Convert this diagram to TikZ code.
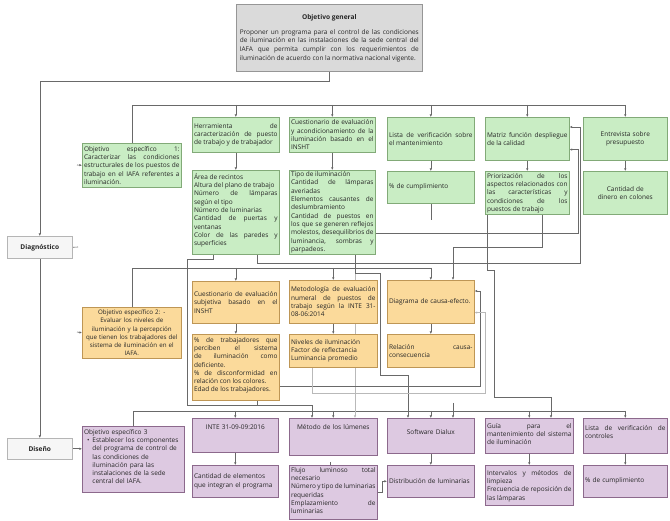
\documentclass[tikz,border=0pt]{standalone}
\usepackage{fontspec}
\setmainfont{Open Sans}
\usetikzlibrary{arrows.meta}
\definecolor{grnF}{RGB}{201,237,196}
\definecolor{grnD}{RGB}{130,170,120}
\definecolor{orgF}{RGB}{251,218,155}
\definecolor{orgD}{RGB}{190,150,85}
\definecolor{purF}{RGB}{221,201,225}
\definecolor{purD}{RGB}{140,105,140}
\definecolor{genF}{RGB}{218,218,218}
\definecolor{genD}{RGB}{150,150,150}
\definecolor{whF}{RGB}{246,246,246}
\definecolor{lnC}{RGB}{105,105,105}
\definecolor{lnL}{RGB}{185,185,185}
\pgfdeclarelayer{bg}
\pgfsetlayers{bg,main}
\newcommand\nohy{\hyphenpenalty=10000\relax\exhyphenpenalty=10000\relax\tolerance=9999\relax\emergencystretch=6pt\relax\hbadness=10000\relax\hfuzz=4pt\relax}
\newcommand\txtfont{\fontsize{6.5}{8.3}\selectfont\nohy}
\newcommand\smfont{\fontsize{6.2}{8.1}\selectfont\nohy}
\newcommand\genfont{\fontsize{6.5}{8.7}\selectfont\nohy}
\newcommand\ttlfont{\bfseries\fontsize{6.6}{8}\selectfont}
\tikzset{
  bxg/.style={draw=grnD, fill=grnF, line width=0.6pt},
  bxo/.style={draw=orgD, fill=orgF, line width=0.6pt},
  bxp/.style={draw=purD, fill=purF, line width=0.6pt},
  bxgen/.style={draw=genD, fill=genF, line width=0.6pt},
  bxw/.style={draw=genD!70, fill=whF, line width=0.6pt},
  txt/.style={inner sep=0pt, font=\txtfont, text=black!85},
  ln/.style={draw=lnC, line width=0.6pt},
  lnl/.style={draw=lnL, line width=0.6pt},
  ar/.style={-{Latex[length=2.6pt,width=2.4pt]}},
}
% #1 name, #2 x1, #3 y1, #4 x2, #5 y2, #6 box style, #7 text options, #8 text
\newcommand\bxc[8]{%
  \pgfmathsetmacro\bw{#4-#2}\pgfmathsetmacro\bh{#5-#3}\pgfmathsetmacro\tw{#4-#2-3.5}%
  \node[#6, minimum width=\bw pt, minimum height=\bh pt, anchor=north west, inner sep=0pt] (#1) at (#2,#3) {};%
  \node[txt, text width=\tw pt, #7] at (#1.center) {#8};}
% top aligned text, #9 = offset from top
\newcommand\bxt[9]{%
  \pgfmathsetmacro\bw{#4-#2}\pgfmathsetmacro\bh{#5-#3}\pgfmathsetmacro\tw{#4-#2-3.5}%
  \node[#6, minimum width=\bw pt, minimum height=\bh pt, anchor=north west, inner sep=0pt] (#1) at (#2,#3) {};%
  \node[txt, text width=\tw pt, anchor=north, #7] at ([yshift=-#9pt]#1.north) {#8};}
\begin{document}
\begin{tikzpicture}[x=1pt,y=-1pt]
\useasboundingbox (0,0) rectangle (670,521);
\begin{pgfonlayer}{bg}
\fill[white] (0,0) rectangle (670,521);
\end{pgfonlayer}

% ---------- general ----------
\node[bxgen, minimum width=186pt, minimum height=67pt, anchor=north west, inner sep=0pt] (gen) at (236,4) {};
\node[txt, font=\ttlfont] at ([yshift=-14pt]gen.north) {Objetivo general};
\node[txt, text width=179pt, align=justify, anchor=north, font=\genfont] at ([yshift=-25pt]gen.north)
 {Proponer un programa para el control de las condiciones\linebreak de iluminación en las instalaciones de la sede central del\linebreak IAFA que permita cumplir con los requerimientos de\linebreak iluminación de acuerdo con la normativa nacional vigente.};

\bxc{diag}{7}{236}{72}{258}{bxw}{align=center, font=\ttlfont}{Diagnóstico}
\bxc{dis}{7}{438}{72}{459}{bxw}{align=center, font=\ttlfont}{Diseño}

% ---------- green ----------
\bxt{obj1}{82}{143}{181}{187}{bxg}{align=justify}{Objetivo específico 1:\linebreak Caracterizar las condiciones estructurales de los puestos de trabajo en el IAFA referentes a iluminación.}{3}
\bxc{herr}{192}{117}{279}{152}{bxg}{align=justify}{Herramienta de\linebreak caracterización de puesto\linebreak de trabajo y de trabajador}
\bxc{cues}{289}{117}{375}{152}{bxg}{align=justify}{Cuestionario de evaluación y acondicionamiento de la iluminación basado en el INSHT}
\bxc{lista}{387}{117}{474}{160}{bxg}{align=justify}{Lista de verificación sobre\linebreak el mantenimiento}
\bxc{matriz}{485}{117}{569}{160}{bxg}{align=justify}{Matriz función despliegue de la calidad}
\bxc{entre}{583}{117}{667}{160}{bxg}{align=center}{Entrevista sobre presupuesto}
\bxt{herrD}{192}{170}{279}{254}{bxg}{align=justify}{Área de recintos\par Altura del plano de trabajo\par Número de lámparas\linebreak según el tipo\par Número de luminarias\par Cantidad de puertas y ventanas\par Color de las paredes y superficies}{3}
\bxt{cuesD}{289}{170}{375}{254}{bxg}{align=justify}{Tipo de iluminación\par Cantidad de lámparas averiadas\par Elementos causantes de\linebreak deslumbramiento\par Cantidad de puestos en los que se generen reflejos molestos, desequilibrios de\linebreak luminancia, sombras y parpadeos.}{1.5}
\bxc{listaD}{387}{171}{474}{203}{bxg}{align=left}{\% de cumplimiento}
\bxt{matrizD}{485}{171}{569}{214}{bxg}{align=justify}{Priorización de los\linebreak aspectos relacionados con\linebreak las características y\linebreak condiciones de los\linebreak puestos de trabajo}{2}
\bxc{entreD}{583}{171}{667}{214}{bxg}{align=center}{Cantidad de dinero en colones}

% ---------- orange ----------
\bxc{obj2}{82}{307}{181}{358}{bxo}{align=center, text width=98pt, font=\smfont}{Objetivo específico 2: -\\ Evaluar los niveles de\\ iluminación y la percepción\\ que tienen los trabajadores del\\ sistema de iluminación en el\\ IAFA.}
\bxc{csub}{192}{281}{279}{323}{bxo}{align=justify}{Cuestionario de evaluación subjetiva basado en el INSHT}
\bxt{csubD}{192}{334}{279}{400}{bxo}{align=justify}{\% de trabajadores que perciben el sistema de iluminación como deficiente.\par \% de disconformidad en relación con los colores.\par Edad de los trabajadores.}{3}
\bxc{metod}{289}{280}{377}{323}{bxo}{align=justify}{Metodología de evaluación numeral de puestos de trabajo según la INTE 31-\linebreak 08-06:2014}
\bxc{nivel}{289}{334}{377}{367}{bxo}{align=left}{Niveles de iluminación\par Factor de reflectancia\par Luminancia promedio}
\bxc{diagr}{387}{280}{474}{323}{bxo}{align=left}{Diagrama de causa-efecto.}
\bxc{relac}{387}{334}{474}{367}{bxo}{align=justify}{Relación causa-\linebreak consecuencia}

% ---------- purple ----------
\bxt{obj3}{82}{426}{184}{492}{bxp}{align=left}{Objetivo específico 3\par\hspace*{3pt}\textbullet\hspace{3pt}\parbox[t]{\dimexpr\linewidth-12pt}{Establecer los componentes del programa de control de\linebreak las condiciones de\linebreak iluminación para las\linebreak instalaciones de la sede\linebreak central del IAFA.}}{3}
\bxt{inte}{192}{418}{278}{452}{bxp}{align=center}{INTE 31-09-09:2016}{7}
\bxc{inteD}{192}{465}{278}{497}{bxp}{align=left}{Cantidad de elementos que integran el programa}
\bxt{metodo}{289}{418}{377}{455}{bxp}{align=center}{Método de los lúmenes}{6}
\bxt{metodoD}{289}{465}{377}{519}{bxp}{align=justify}{Flujo luminoso total necesario\par Número y tipo de luminarias requeridas\par Emplazamiento de luminarias}{2}
\bxt{soft}{387}{418}{474}{453}{bxp}{align=center}{Software Dialux}{11}
\bxc{softD}{387}{465}{474}{497}{bxp}{align=left}{Distribución de luminarias}
\bxt{guia}{485}{418}{573}{453}{bxp}{align=justify}{Guía para el\linebreak mantenimiento del sistema de iluminación}{5}
\bxt{guiaD}{485}{465}{573}{505}{bxp}{align=justify}{Intervalos y métodos de limpieza\par Frecuencia de reposición de las lámparas}{5}
\bxt{lctrl}{583}{418}{667}{453}{bxp}{align=justify}{Lista de verificación de controles}{7}
\bxc{lctrlD}{583}{465}{667}{497}{bxp}{align=left}{\% de cumplimiento}

% ---------- connectors ----------
\coordinate (h1) at (0,105);
\coordinate (h2) at (0,268);
\coordinate (h3) at (0,411);
\coordinate (s1) at (78,247);
\coordinate (s2) at (77,165);
\coordinate (s3) at (77,332);
\coordinate (s4) at (453,403);
\begin{pgfonlayer}{bg}
\draw[ln,ar] (gen.south) -- ++(0,10) -| (diag.north);
\draw[ln,ar] (diag.south) -- (dis.north);
\draw[ln] (diag.east) -- (s1);
\draw[ln,ar] (s2) -- (obj1.west);
\draw[ln,ar] (s3) -- (obj2.west);
\draw[ln,ar] (dis.east) -- (obj3.west |- dis.east);

\draw[ln] (obj1.north) |- (entre.north |- h1);
\foreach \n in {herr,cues,lista,matriz,entre} \draw[ln,ar] (\n.north |- h1) -- (\n.north);
\draw[ln] (obj2.north) |- (diagr.north |- h2);
\foreach \n in {csub,metod,diagr} \draw[ln,ar] (\n.north |- h2) -- (\n.north);
\draw[ln] (obj3.north) |- (lctrl.north |- h3);
\foreach \n in {inte,metodo,soft,guia,lctrl} \draw[ln,ar] (\n.north |- h3) -- (\n.north);

\foreach \a/\b in {herr/herrD,cues/cuesD,lista/listaD,matriz/matrizD,entre/entreD,csub/csubD,metod/nivel,diagr/relac,inte/inteD,soft/softD,guia/guiaD,lctrl/lctrlD}
  \draw[ln,ar] (\a.south) -- (\b.north);

% routes
\draw[ln,ar] ([xshift=21pt]herrD.south west) -- ++(0,5) -- ++(-26,0) -- ++(0,146) -| ([xshift=23pt]metodo.north west);
\draw[ln,ar] ([xshift=65pt]herrD.south west) -- ++(0,9) -- ++(323,0) |- ([yshift=-10pt]matriz.north east);
\draw[ln,ar] ([yshift=21pt]cuesD.south east) -- ++(203,0) |- ([yshift=11pt]matriz.south east);
\draw[lnl,ar] ([xshift=66pt]cuesD.south west) -- ([xshift=66pt]metodo.north west);
\draw[ln,ar] ([xshift=66pt]cuesD.south west) -- ++(0,19) -- ++(25,0) -- ++(0,102) -| ([xshift=21pt]soft.north west);
\draw[ln] (listaD.south) -- ++(0,16);
\draw[ln,ar] ([xshift=57pt]matrizD.south west) -- ++(0,33) -| ([xshift=66pt]diagr.north west);
\draw[ln,ar] ([xshift=2pt]matrizD.south west) -- ++(0,56) -- ++(7,0) -- ++(0,127) -| ([xshift=66pt]guia.north west);
\draw[ln,ar] ([yshift=14pt]csubD.south east) -- ++(201,0) |- ([yshift=-11pt]diagr.north east);
\draw[lnl,ar] ([xshift=23pt]nivel.south west) -- ++(0,26) -- ++(173,0) |- ([yshift=11pt]diagr.south east);
\draw[ln] ([xshift=65pt]csubD.south west) -- ++(0,4);
\draw[ln,ar] (s4) -- ([xshift=66pt]soft.north west);
\draw[ln] ([xshift=41pt]metodoD.north west) -- ++(0,-3);
\draw[ln,ar] (metodoD.east) -- ++(5,0) |- (softD.west);
\end{pgfonlayer}
\end{tikzpicture}
\end{document}
